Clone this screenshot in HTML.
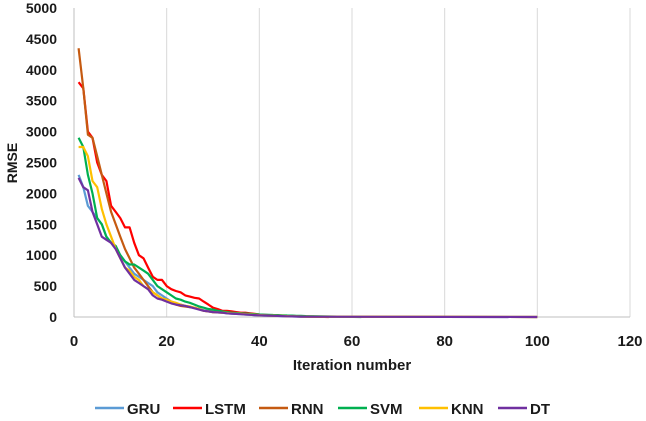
<!DOCTYPE html>
<html><head><meta charset="utf-8">
<style>
html,body{margin:0;padding:0;background:#fff;}
body{width:646px;height:416px;overflow:hidden;font-family:"Liberation Sans",sans-serif;}
svg text{font-family:"Liberation Sans",sans-serif;font-weight:bold;fill:#1a1a1a;}
</style></head>
<body>
<svg id="chart" width="646" height="416" xmlns="http://www.w3.org/2000/svg">
<g id="grid"></g>
<g id="axes"></g>
<g id="series"></g>
<text x="352" y="370" font-size="15" text-anchor="middle">Iteration number</text>
<text transform="translate(17,163) rotate(-90)" font-size="14" text-anchor="middle">RMSE</text>
<g id="legend"></g>
</svg>
<script>
const seriesNames=["GRU","LSTM","RNN","SVM","KNN","DT"];
const seriesColors=["#5b9bd5","#ff0000","#c55a11","#00b050","#ffc000","#7030a0"];
const xTicks=[0,20,40,60,80,100,120];
const yTicks=[0,500,1000,1500,2000,2500,3000,3500,4000,4500,5000];
const gru=[2300,2100,1800,1700,1600,1500,1300,1200,1100,1000,900,800,700,650,600,550,500,400,350,300,250,220,200,180,160,150,130,110,100,90,80,70,60,55,50,45,40,35,30,28,25,22,20,18,15,12,10,8,6,5];
const lstm=[3800,3700,3000,2900,2500,2300,2200,1800,1700,1600,1450,1450,1200,1000,950,800,650,600,600,500,450,420,400,350,330,310,300,250,200,150,130,100,100,90,80,70,70,60,50,40,35,30,28,25,22,20,18,15,12,10];
const rnn=[4350,3700,2950,2900,2600,2300,2000,1700,1500,1300,1100,950,800,700,600,500,400,350,300,280,250,200,180,170,160,150,130,100,90,80,75,70,65,60,55,50,45,40,35,30,28,25,22,20,18,15,12,10,8,6];
const svm=[2900,2750,2300,2000,1600,1500,1300,1200,1150,1000,900,850,850,800,750,700,600,500,450,400,350,300,280,250,230,200,170,150,130,120,100,90,80,70,65,60,55,50,45,40,38,35,32,30,28,25,22,20,18,15];
const knn=[2750,2750,2600,2200,2100,1750,1500,1300,1100,950,800,750,650,600,500,450,400,350,300,280,250,230,200,180,170,150,130,100,90,80,75,70,65,60,55,50,45,40,35,30,28,25,22,20,18,15,12,10,8,6];
const dt=[2250,2100,2050,1700,1500,1300,1250,1200,1100,950,800,700,600,550,500,450,350,300,280,250,220,200,190,180,160,140,120,100,90,80,75,70,60,55,50,45,40,35,30,28,25,22,20,18,15,12,10,8,6,5];
const endIter=[100,55,100,62,100,100];
const endValue=[0,0,0,0,0,0];
const allSeries=[gru,lstm,rnn,svm,knn,dt];

const X0=74,X1=630,Y0=317,Y1=8;
const xs=v=>X0+(v-0)/(120-0)*(X1-X0);
const ys=v=>Y0-(v-0)/(5000-0)*(Y0-Y1);
const NS="http://www.w3.org/2000/svg";
const mk=(t,a)=>{const e=document.createElementNS(NS,t);for(const k in a)e.setAttribute(k,a[k]);return e;};
const grid=document.getElementById('grid'),axes=document.getElementById('axes'),ser=document.getElementById('series'),leg=document.getElementById('legend');

xTicks.forEach(t=>{
  if(t>0){const l=mk('line',{x1:xs(t),x2:xs(t),y1:Y1,y2:Y0,stroke:'#d9d9d9','stroke-width':1});
  
  
  grid.appendChild(l);}
  const tx=mk('text',{x:xs(t),y:Y0+29,'font-size':15,'text-anchor':'middle'});
  
  
  tx.textContent=t;axes.appendChild(tx);
});
yTicks.forEach(t=>{
  const tx=mk('text',{x:57,y:ys(t)+5,'font-size':14,'text-anchor':'end'});
  
  
  tx.textContent=t;axes.appendChild(tx);
});
const ya=mk('line',{x1:X0,x2:X0,y1:Y1,y2:Y0,stroke:'#bfbfbf','stroke-width':1});


axes.appendChild(ya);
const xa=mk('line',{x1:X0,x2:X1,y1:Y0,y2:Y0,stroke:'#bfbfbf','stroke-width':1});


axes.appendChild(xa);

allSeries.forEach((arr,i)=>{
  const pts=arr.map((v,j)=>xs(j+1).toFixed(1)+','+ys(v).toFixed(1));
  pts.push(xs(endIter[i]).toFixed(1)+','+ys(endValue[i]).toFixed(1));
  const p=mk('polyline',{points:pts.join(' '),fill:'none',stroke:seriesColors[i],'stroke-width':2.2,'stroke-linejoin':'round'});
  
  
  ser.appendChild(p);
});

const legX=[95,173,259,338,419,498];
seriesNames.forEach((n,i)=>{
  const g=mk('g',{});
  
  
  g.appendChild(mk('line',{x1:legX[i],x2:legX[i]+29,y1:408,y2:408,stroke:seriesColors[i],'stroke-width':2.5}));
  const t=mk('text',{x:legX[i]+32,y:414,'font-size':15});
  t.textContent=n;g.appendChild(t);leg.appendChild(g);
});
</script>
</body></html>
